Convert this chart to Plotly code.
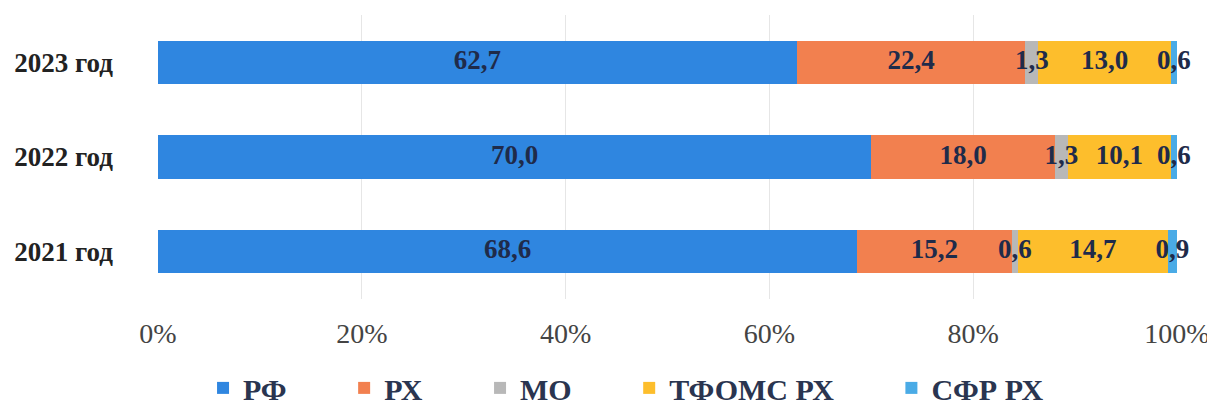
import plotly.graph_objects as go

categories = ["2021 год", "2022 год", "2023 год"]
series_names = ["РФ", "РХ", "МО", "ТФОМС РХ", "СФР РХ"]
rf = [68.6, 70.0, 62.7]
rh = [15.2, 18.0, 22.4]
mo = [0.6, 1.3, 1.3]
tfoms = [14.7, 10.1, 13.0]
sfr = [0.9, 0.6, 0.6]
x_tick_vals = [0, 20, 40, 60, 80, 100]
x_tick_text = ["0%", "20%", "40%", "60%", "80%", "100%"]

colors = ["#2F86E0", "#F2804F", "#B8B8B8", "#FDBE2C", "#4AABE6"]
series = [rf, rh, mo, tfoms, sfr]

PAD = "\u00a0" * 7

fig = go.Figure()
label_x, label_y, label_t = [], [], []
cum = [0.0] * len(categories)
for k, (name, vals, col) in enumerate(zip(series_names, series, colors)):
    shown = name + (PAD if k < len(series_names) - 1 else "")
    fig.add_trace(go.Bar(
        y=categories, x=vals, name=shown, orientation="h",
        marker=dict(color=col, line=dict(width=0)),
        textposition="none", hoverinfo="x+name",
    ))
    for i, v in enumerate(vals):
        label_x.append(cum[i] + v / 2)
        label_y.append(categories[i])
        label_t.append(f"{v:.1f}".replace(".", ","))
        cum[i] += v

fig.add_trace(go.Scatter(
    x=label_x, y=label_y, text=label_t, mode="text",
    textfont=dict(family="Liberation Serif", size=27, color="#1F2B4A", weight="bold"),
    showlegend=False, hoverinfo="skip", cliponaxis=False,
))

fig.update_layout(
    barmode="stack",
    bargap=0.54,
    width=1207, height=400,
    margin=dict(l=150, r=38, t=7, b=109, autoexpand=False),
    paper_bgcolor="white", plot_bgcolor="white",
    font=dict(family="Liberation Serif", color="#333333"),
    legend=dict(
        orientation="h",
        x=0.0442, xanchor="left", y=-0.313, yanchor="middle",
        font=dict(family="Liberation Serif", size=30, color="#2A3550", weight="bold"),
        traceorder="normal", itemwidth=30, borderwidth=0,
    ),
    xaxis=dict(
        range=[0, 100], tickvals=x_tick_vals, ticktext=x_tick_text,
        showgrid=True, gridcolor="#E6E6E6", gridwidth=1, zeroline=False,
        tickfont=dict(family="Liberation Serif", size=28, color="#444444"),
        ticks="", ticklen=0, ticklabelstandoff=15, automargin=False,
    ),
    yaxis=dict(
        categoryorder="array", categoryarray=categories,
        tickfont=dict(family="Liberation Serif", size=27, color="#222222", weight="bold"),
        ticks="", ticklabelstandoff=44, showgrid=False, zeroline=False, automargin=False,
    ),
)

fig.write_html("out.html")
